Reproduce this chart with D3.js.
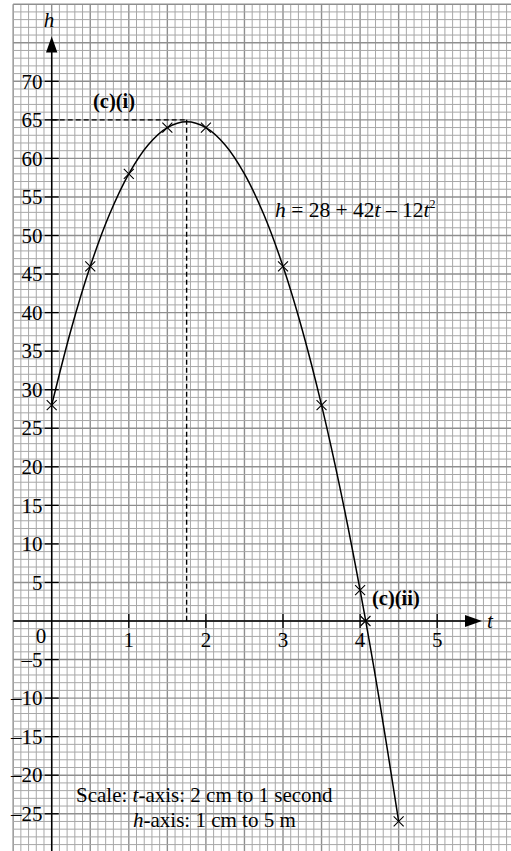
<!DOCTYPE html>
<html>
<head>
<meta charset="utf-8">
<script src="https://cdn.jsdelivr.net/npm/d3@7"></script>
<style>
  html, body { margin: 0; padding: 0; background: #fff; }
  svg { display: block; }
  text { font-family: "Liberation Serif", "Times New Roman", serif; fill: #000; }
</style>
</head>
<body>
<svg id="chart" width="511" height="851"></svg>
<script>
// Plotted points (crosses) for h = 28 + 42t - 12t^2
const crossT = [0, 0.5, 1, 1.5, 2, 3, 3.5, 4, 4.07, 4.5];
const crossH = [28, 46, 58, 64, 64, 46, 28, 4, 0, -26];

// Points
const curveT = [0, 0.25, 0.5, 0.75, 1, 1.25, 1.5, 1.75, 2, 2.25, 2.5, 2.75, 3, 3.25, 3.5, 3.75, 4, 4.25, 4.5];
const curveH = [28, 37.75, 46, 52.75, 58, 61.75, 64, 64.75, 64, 61.75, 58, 52.75, 46, 37.75, 28, 16.75, 4, -10.25, -26];

// Axis ticks
const tTicks = [1, 2, 3, 4, 5];
const hTicks = [70, 65, 60, 55, 50, 45, 40, 35, 30, 25, 20, 15, 10, 5, -5, -10, -15, -20, -25];

// Maximum point (c)(i) and root (c)(ii)
const maxT = 1.75, maxH = 65;

const W = 511, H = 851;
const svg = d3.select("#chart");

const x = d3.scaleLinear().domain([0, 5]).range([51.7, 437.2]);
const y = d3.scaleLinear().domain([0, 70]).range([621, 81.3]);

// Graph paper extent
const gridLeft = x(-0.5), gridTop = y(80);

// Grid: 1 mm squares, darker 1 cm lines
const grid = svg.append("g");
const vLines = d3.range(0, 66).map(i => ({ t: -0.5 + i * 0.1, major: i % 5 === 0 }));
const hLines = d3.range(0, 112).map(i => ({ h: 80 - i, major: i % 5 === 0 }));
grid.selectAll("line.v").data(vLines).join("line")
  .attr("x1", d => x(d.t)).attr("x2", d => x(d.t))
  .attr("y1", gridTop).attr("y2", H)
  .attr("stroke", d => d.major ? "#8f8f8f" : "#a8a8a8")
  .attr("stroke-width", d => d.major ? 1.4 : 1);
grid.selectAll("line.h").data(hLines).join("line")
  .attr("y1", d => y(d.h)).attr("y2", d => y(d.h))
  .attr("x1", gridLeft).attr("x2", W)
  .attr("stroke", d => d.major ? "#8f8f8f" : "#a8a8a8")
  .attr("stroke-width", d => d.major ? 1.4 : 1);

// Axes
const axes = svg.append("g").attr("stroke", "#000").attr("stroke-width", 1.5);
axes.append("line").attr("x1", x(0)).attr("x2", x(0)).attr("y1", 50).attr("y2", H);
axes.append("line").attr("x1", gridLeft).attr("x2", 467).attr("y1", y(0)).attr("y2", y(0));
svg.append("path")
  .attr("d", `M${x(0)},36.5 L${x(0) - 5.7},52.5 L${x(0) + 5.7},52.5 Z`).attr("fill", "#000");
svg.append("path")
  .attr("d", `M482,${y(0)} L465,${y(0) - 6} L465,${y(0) + 6} Z`).attr("fill", "#000");

// h ticks and labels
svg.append("g").selectAll("line").data(hTicks).join("line")
  .attr("x1", x(0) - 7).attr("x2", x(0) + 7)
  .attr("y1", d => y(d)).attr("y2", d => y(d))
  .attr("stroke", "#000").attr("stroke-width", 1.3);
svg.append("g").selectAll("text").data(hTicks).join("text")
  .attr("x", 42.5).attr("y", d => y(d) + 7.2)
  .attr("text-anchor", "end").attr("font-size", 21)
  .text(d => d < 0 ? "\u2013" + Math.abs(d) : d);

// t ticks and labels
svg.append("g").selectAll("line").data(tTicks).join("line")
  .attr("x1", d => x(d)).attr("x2", d => x(d))
  .attr("y1", y(0) - 7).attr("y2", y(0) + 7)
  .attr("stroke", "#000").attr("stroke-width", 1.3);
svg.append("g").selectAll("text").data(tTicks).join("text")
  .attr("x", d => x(d)).attr("y", 646.5)
  .attr("text-anchor", "middle").attr("font-size", 21)
  .text(d => d);
svg.append("text").attr("x", 41).attr("y", 642.5)
  .attr("text-anchor", "middle").attr("font-size", 21).text("0");

// Axis names
svg.append("text").attr("x", 49).attr("y", 27).attr("text-anchor", "middle")
  .attr("font-size", 21).attr("font-style", "italic").text("h");
svg.append("text").attr("x", 490).attr("y", 628).attr("text-anchor", "middle")
  .attr("font-size", 21).attr("font-style", "italic").text("t");

// Dashed guide lines to the maximum
const dash = svg.append("g").attr("stroke", "#000").attr("stroke-width", 1.4)
  .attr("stroke-dasharray", "5,3");
dash.append("line").attr("x1", x(0)).attr("x2", x(maxT)).attr("y1", y(maxH)).attr("y2", y(maxH));
dash.append("line").attr("x1", x(maxT)).attr("x2", x(maxT)).attr("y1", y(maxH)).attr("y2", y(0));

// Curve
const curvePts = curveT.map((t, i) => [t, curveH[i]]);
svg.append("path")
  .datum(curvePts)
  .attr("fill", "none").attr("stroke", "#000").attr("stroke-width", 1.5)
  .attr("d", d3.line().x(d => x(d[0])).y(d => y(d[1])).curve(d3.curveCatmullRom.alpha(0.5)));

// Crosses
const s = 5;
const crosses = svg.append("g").attr("stroke", "#000").attr("stroke-width", 1.1);
crossT.forEach((t, i) => {
  const cx = x(t), cy = y(crossH[i]);
  crosses.append("path").attr("d", `M${cx - s},${cy - s}L${cx + s},${cy + s}M${cx - s},${cy + s}L${cx + s},${cy - s}`);
});

// Labels
svg.append("text").attr("x", 93).attr("y", 108).attr("font-size", 20.5)
  .attr("font-weight", "bold").text("(c)(i)");
svg.append("text").attr("x", 372).attr("y", 605).attr("font-size", 20.5)
  .attr("font-weight", "bold").text("(c)(ii)");

const eq = svg.append("text").attr("x", 275).attr("y", 217).attr("font-size", 21.5);
eq.append("tspan").attr("font-style", "italic").text("h");
eq.append("tspan").text(" = 28 + 42");
eq.append("tspan").attr("font-style", "italic").text("t");
eq.append("tspan").text(" \u2013 12");
eq.append("tspan").attr("font-style", "italic").text("t");
eq.append("tspan").attr("font-size", 12).attr("dy", -9).text("2");

// Scale note
const s1 = svg.append("text").attr("x", 76).attr("y", 802).attr("font-size", 21);
s1.append("tspan").text("Scale: ");
s1.append("tspan").attr("font-style", "italic").text("t");
s1.append("tspan").text("-axis: 2 cm to 1 second");
const s2 = svg.append("text").attr("x", 133).attr("y", 827).attr("font-size", 21);
s2.append("tspan").attr("font-style", "italic").text("h");
s2.append("tspan").text("-axis: 1 cm to 5 m");
</script>
</body>
</html>
